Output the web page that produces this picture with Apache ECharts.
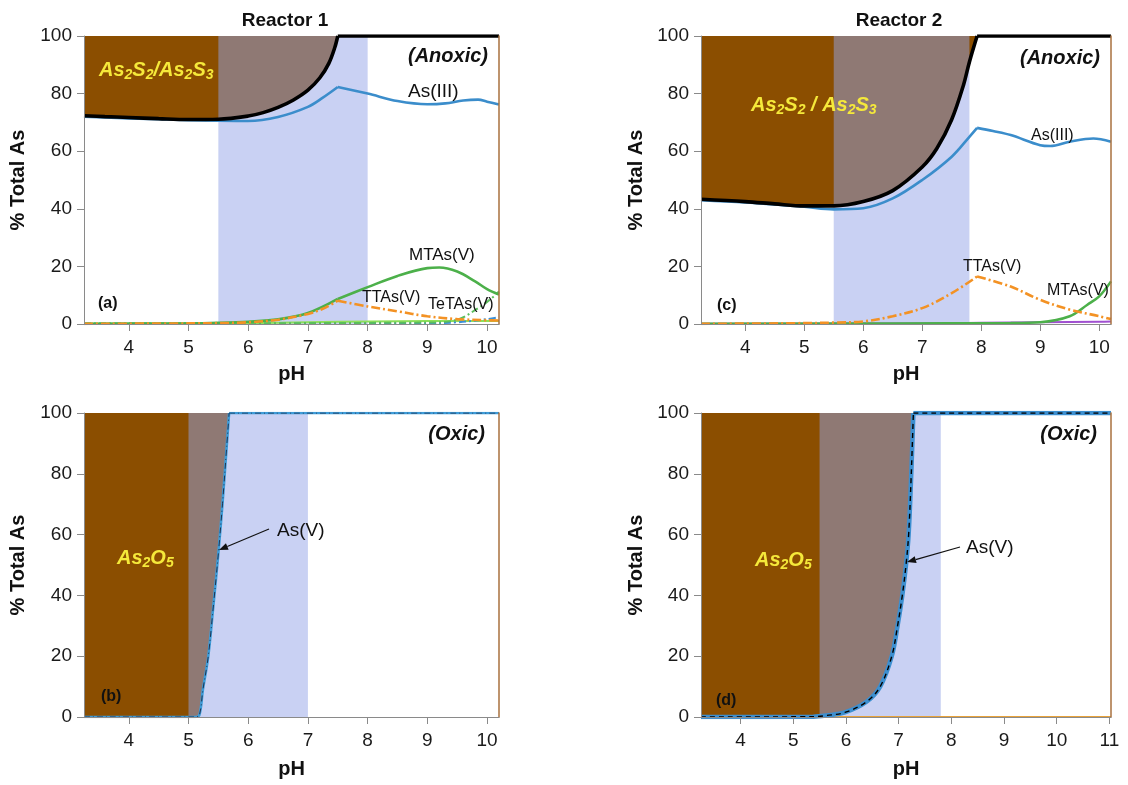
<!DOCTYPE html>
<html><head><meta charset="utf-8">
<script src="https://cdn.jsdelivr.net/npm/echarts@6/dist/echarts.min.js"></script>
<style>html,body{margin:0;padding:0;background:#fff}#c{width:1128px;height:785px}</style>
</head><body><div id="c"></div>
<script>
// ---------- DATA ----------
// Panel (a) Reactor 1, anoxic
const pH_solidA = [3.25, 3.6, 4, 4.5, 5, 5.5, 6, 6.25, 6.5, 6.75, 7, 7.2, 7.35, 7.45, 7.5, 10.2];
const solidA    = [72.3, 72.0, 71.7, 71.3, 71.0, 71.1, 72.2, 73.4, 75.2, 77.7, 81.2, 85.5, 90.5, 96.0, 100, 100];
const pH_as3A = [3.25, 4, 5, 5.5, 6, 6.5, 7, 7.25, 7.5, 8, 8.5, 9, 9.3, 9.6, 9.85, 10, 10.2];
const as3A    = [72.0, 71.4, 70.8, 70.6, 70.5, 71.9, 75.4, 78.6, 82.3, 80.0, 77.4, 76.3, 76.6, 77.6, 77.9, 77.2, 76.2];
const pH_mtaA = [3.25, 5, 5.5, 6, 6.5, 7, 7.5, 8, 8.5, 9, 9.2, 9.5, 9.8, 10, 10.2];
const mtaA    = [0.1, 0.2, 0.4, 0.8, 1.6, 3.8, 8.7, 12.8, 16.7, 19.4, 19.6, 18.2, 14.8, 12.1, 10.2];
const pH_ttaA = [3.25, 5, 5.5, 6, 6.5, 7, 7.25, 7.5, 8, 8.5, 9, 9.5, 10, 10.2];
const ttaA    = [0.05, 0.2, 0.3, 0.6, 1.5, 3.5, 5.3, 8.1, 6.1, 4.4, 2.7, 1.7, 1.3, 1.2];
const pH_tetaA = [3.25, 9, 9.5, 9.85, 10.05, 10.2];
const tetaA    = [0.2, 0.5, 1.5, 5.5, 8.5, 11.3];
const pH_minorBlueA = [3.25, 9, 9.5, 10, 10.2];
const minorBlueA    = [0.05, 0.2, 0.6, 1.7, 2.4];
const pH_limeA = [3.25, 6, 7, 8, 9, 10, 10.2];
const limeA    = [0.1, 0.3, 0.6, 0.9, 1.0, 1.0, 1.0];
const kinkA = [7.5];
const bandA = [5.5, 8.0];

// Panel (c) Reactor 2, anoxic
const pH_solidC = [3.25, 4, 4.5, 5, 5.5, 6, 6.5, 7, 7.25, 7.5, 7.7, 7.8, 7.93, 10.2];
const solidC    = [43.3, 42.5, 41.7, 41.0, 41.0, 42.5, 46.3, 54.5, 61.0, 71.0, 83.0, 91.0, 100, 100];
const pH_as3C = [3.25, 4, 5, 5.5, 6, 6.5, 7, 7.5, 7.8, 7.93, 8.2, 8.5, 9, 9.17, 9.5, 9.9, 10.2];
const as3C    = [43.0, 42.2, 40.7, 39.8, 40.2, 43.6, 50.0, 58.1, 65.0, 68.1, 67.0, 65.6, 62.1, 61.8, 63.3, 64.4, 63.3];
const pH_ttaC = [3.25, 5, 5.5, 6, 6.5, 7, 7.5, 7.93, 8.5, 9, 9.5, 10, 10.2];
const ttaC    = [0.05, 0.3, 0.5, 0.9, 2.7, 5.5, 10.7, 16.5, 13.0, 8.4, 5.0, 2.7, 1.7];
const pH_mtaC = [3.25, 8.5, 9, 9.5, 9.8, 10, 10.2];
const mtaC    = [0.1, 0.3, 0.6, 2.7, 6.7, 9.6, 14.8];
const pH_purpleC = [3.25, 7, 8, 9, 10, 10.2];
const purpleC    = [0.1, 0.2, 0.4, 0.6, 0.8, 0.9];
const kinkC = [7.93];
const bandC = [5.5, 7.8];

// Panel (b) Reactor 1, oxic
const pH_as5B = [3.25, 5.1, 5.18, 5.24, 5.33, 5.41, 5.5, 5.57, 5.64, 5.68, 10.2];
const as5B    = [0, 0, 0.5, 8.8, 19.8, 35.2, 53.8, 70.3, 89, 100, 100];
const kinkB = [5.68];
const bandB = [5.0, 7.0];

// Panel (d) Reactor 2, oxic
const pH_as5D = [3.25, 5.38, 5.63, 5.98, 6.39, 6.65, 6.87, 6.98, 7.07, 7.14, 7.19, 7.24, 7.28, 11.03];
const as5D    = [0, 0.1, 0.5, 1.5, 5, 10, 20, 30, 40, 50, 60, 80, 100, 100];
const pH_orangeD = [5.5, 11.03];
const orangeD    = [0, 0];
const kinkD = [7.28];
const bandD = [5.5, 7.8];

const xRangeABC = [3.25, 10.2];
const xRangeD = [3.25, 11.03];
const xTicksABC = [4, 5, 6, 7, 8, 9, 10];
const xTicksD = [4, 5, 6, 7, 8, 9, 10, 11];

// ---------- STYLE ----------
const FONT = '"Liberation Sans", Arial, Helvetica, sans-serif';
const BROWN = '#8B4E00';
const OVERLAY = 'rgba(147,163,231,0.5)';
const C_AS3 = '#3B8DCB', C_GREEN = '#4CB04A', C_ORANGE = '#F39224';
const YELLOW = '#F5E93A';
const SMOOTH = 0.35;

// grid index: 0=(a), 1=(c), 2=(b), 3=(d)
const grids = [
  {left: 84, top: 36, width: 415, height: 288},
  {left: 701, top: 36, width: 410, height: 288},
  {left: 84, top: 413, width: 415, height: 304},
  {left: 701, top: 413, width: 410, height: 304}
];
const xRanges = [xRangeABC, xRangeABC, xRangeABC, xRangeD];
const xTickSets = [xTicksABC, xTicksABC, xTicksABC, xTicksD];
const yNameGap = [56, 55, 56, 55];

function segs(xs, ys, kinks) {
  const out = []; let cur = [];
  xs.forEach((x, i) => {
    cur.push([x, ys[i]]);
    if (kinks.includes(x) && i > 0 && i < xs.length - 1) { out.push(cur); cur = [[x, ys[i]]]; }
  });
  out.push(cur);
  return out;
}
function lines(g, xs, ys, kinks, lineStyle, z) {
  return segs(xs, ys, kinks).map(d => ({
    type: 'line', xAxisIndex: g, yAxisIndex: g, data: d, symbol: 'none',
    smooth: SMOOTH, silent: true, animation: false,
    lineStyle: lineStyle, z: z || 5
  }));
}
function fillAbove(g, xs, ys, kinks) {
  return segs(xs, ys, kinks).map(d => ({
    type: 'line', xAxisIndex: g, yAxisIndex: g, data: d, symbol: 'none',
    smooth: SMOOTH, silent: true, animation: false,
    lineStyle: {width: 0}, areaStyle: {color: BROWN, opacity: 1, origin: 'end'}, z: 2
  }));
}
function band(g, b) {
  return {type: 'line', xAxisIndex: g, yAxisIndex: g, data: [], silent: true, animation: false,
    markArea: {silent: true, z: 3, animation: false, itemStyle: {color: OVERLAY},
      data: [[{xAxis: b[0], yAxis: 0}, {xAxis: b[1], yAxis: 100}]]}};
}

const series = [].concat(
  // (a)
  fillAbove(0, pH_solidA, solidA, kinkA), [band(0, bandA)],
  lines(0, pH_limeA, limeA, [], {color: '#8EE05A', width: 2}, 5),
  lines(0, pH_minorBlueA, minorBlueA, [], {color: '#3A8FD6', width: 2, type: [7, 3, 2, 3]}, 5),
  lines(0, pH_tetaA, tetaA, [], {color: '#5BBF5B', width: 2, type: [7, 3, 2, 3]}, 5),
  lines(0, pH_mtaA, mtaA, kinkA, {color: C_GREEN, width: 2.6}, 6),
  lines(0, pH_ttaA, ttaA, kinkA, {color: C_ORANGE, width: 2.6, type: [9, 3, 2, 3]}, 7),
  lines(0, pH_as3A, as3A, kinkA, {color: C_AS3, width: 2.6}, 5),
  lines(0, pH_solidA, solidA, kinkA, {color: '#000', width: 3.6}, 6),
  // (c)
  fillAbove(1, pH_solidC, solidC, kinkC), [band(1, bandC)],
  lines(1, pH_purpleC, purpleC, [], {color: '#A050D0', width: 2}, 5),
  lines(1, pH_mtaC, mtaC, [], {color: C_GREEN, width: 2.6}, 6),
  lines(1, pH_ttaC, ttaC, kinkC, {color: C_ORANGE, width: 2.6, type: [9, 3, 2, 3]}, 7),
  lines(1, pH_as3C, as3C, kinkC, {color: C_AS3, width: 2.6}, 5),
  lines(1, pH_solidC, solidC, kinkC, {color: '#000', width: 3.6}, 6),
  // (b)
  fillAbove(2, pH_as5B, as5B, kinkB), [band(2, bandB)],
  lines(2, pH_as5B, as5B, kinkB, {color: '#3E9CD8', width: 2.6}, 5),
  lines(2, pH_as5B, as5B, kinkB, {color: '#1d3352', width: 1, type: [6, 3, 1, 3]}, 6),
  // (d)
  fillAbove(3, pH_as5D, as5D, kinkD), [band(3, bandD)],
  lines(3, pH_orangeD, orangeD, [], {color: '#E8A23A', width: 2}, 5),
  lines(3, pH_as5D, as5D, kinkD, {color: '#3C8FD0', width: 4.5}, 5),
  lines(3, pH_as5D, as5D, kinkD, {color: '#000', width: 1.4, type: [5, 4]}, 6)
);

const xAxis = grids.map((gr, i) => ({
  type: 'value', gridIndex: i, min: xRanges[i][0], max: xRanges[i][1], z: 8,
  name: 'pH', nameLocation: 'middle', nameGap: i < 2 ? 40 : 42,
  nameTextStyle: {fontFamily: FONT, fontSize: 20, fontWeight: 'bold', color: '#111'},
  axisLine: {show: true, lineStyle: {color: '#8a8a8a', width: 1}},
  axisTick: {show: true, length: 7, lineStyle: {color: '#8a8a8a'}, customValues: xTickSets[i]},
  axisLabel: {fontFamily: FONT, fontSize: 19, color: '#1a1a1a', margin: 14, customValues: xTickSets[i]},
  splitLine: {show: false}
}));
const yAxis = grids.map((gr, i) => ({
  type: 'value', gridIndex: i, min: 0, max: 100, interval: 20, z: 8,
  name: '% Total As', nameLocation: 'middle', nameGap: yNameGap[i],
  nameTextStyle: {fontFamily: FONT, fontSize: 20, fontWeight: 'bold', color: '#111'},
  axisLine: {show: true, lineStyle: {color: '#8a8a8a', width: 1}},
  axisTick: {show: true, length: 7, lineStyle: {color: '#8a8a8a'}},
  axisLabel: {fontFamily: FONT, fontSize: 19, color: '#1a1a1a', margin: 12},
  splitLine: {show: false}
})).concat(grids.map((gr, i) => ({
  type: 'value', gridIndex: i, min: 0, max: 100, position: 'right', z: 8,
  axisLine: {show: true, lineStyle: {color: '#A8703E', width: 1.5}},
  axisTick: {show: false}, axisLabel: {show: false}, splitLine: {show: false}
})));

function txt(x, y, text, size, opts) {
  opts = opts || {};
  return {type: 'text', x: x, y: y, z: 20, silent: true,
    style: {text: text, fontFamily: FONT, fontSize: size, fontWeight: opts.bold ? 'bold' : 'normal',
      fontStyle: opts.italic ? 'italic' : 'normal', fill: opts.color || '#111',
      textAlign: opts.align || 'left', textVerticalAlign: 'middle'}};
}
function formula(x, y, text) {
  return {type: 'text', x: x, y: y, z: 20, silent: true,
    style: {text: text, textAlign: 'left', textVerticalAlign: 'middle',
      rich: {
        m: {fontFamily: FONT, fontSize: 20, fontWeight: 'bold', fontStyle: 'italic', fill: YELLOW},
        s: {fontFamily: FONT, fontSize: 14, fontWeight: 'bold', fontStyle: 'italic', fill: YELLOW, padding: [11, 0, 0, 0]}
      }}};
}
function arrow(x1, y1, x2, y2) {
  const dx = x2 - x1, dy = y2 - y1, L = Math.hypot(dx, dy), ux = dx / L, uy = dy / L;
  const hl = 9, hw = 3.5;
  const bx = x2 - ux * hl, by = y2 - uy * hl;
  return [
    {type: 'line', z: 20, silent: true, shape: {x1: x1, y1: y1, x2: bx, y2: by}, style: {stroke: '#111', lineWidth: 1.2}},
    {type: 'polygon', z: 20, silent: true, shape: {points: [[x2, y2], [bx - uy * hw, by + ux * hw], [bx + uy * hw, by - ux * hw]]}, style: {fill: '#111'}}
  ];
}

const graphic = [
  txt(285, 21, 'Reactor 1', 19, {bold: true, align: 'center'}),
  txt(899, 21, 'Reactor 2', 19, {bold: true, align: 'center'}),
  txt(488, 56, '(Anoxic)', 20, {bold: true, italic: true, align: 'right'}),
  txt(1100, 58, '(Anoxic)', 20, {bold: true, italic: true, align: 'right'}),
  txt(485, 434, '(Oxic)', 20, {bold: true, italic: true, align: 'right'}),
  txt(1097, 434, '(Oxic)', 20, {bold: true, italic: true, align: 'right'}),
  txt(408, 92, 'As(III)', 19),
  txt(1031, 136, 'As(III)', 16),
  txt(409, 255, 'MTAs(V)', 17),
  txt(362, 298, 'TTAs(V)', 16),
  txt(428, 305, 'TeTAs(V)', 16),
  txt(963, 267, 'TTAs(V)', 16),
  txt(1047, 291, 'MTAs(V)', 16),
  txt(98, 304, '(a)', 16, {bold: true}),
  txt(717, 306, '(c)', 16, {bold: true}),
  txt(101, 697, '(b)', 16, {bold: true}),
  txt(716, 701, '(d)', 16, {bold: true}),
  txt(277, 531, 'As(V)', 19),
  txt(966, 548, 'As(V)', 19),
  formula(99, 70, '{m|As}{s|2}{m|S}{s|2}{m|/As}{s|2}{m|S}{s|3}'),
  formula(751, 105, '{m|As}{s|2}{m|S}{s|2}{m| / As}{s|2}{m|S}{s|3}'),
  formula(117, 558, '{m|As}{s|2}{m|O}{s|5}'),
  formula(755, 560, '{m|As}{s|2}{m|O}{s|5}')
].concat(arrow(269, 529, 219, 550), arrow(960, 547, 907, 562));

const chart = echarts.init(document.getElementById('c'), null, {renderer: 'canvas'});
chart.setOption({
  animation: false,
  backgroundColor: '#fff',
  grid: grids.map(g => Object.assign({containLabel: false, show: false}, g)),
  xAxis: xAxis,
  yAxis: yAxis,
  series: series,
  graphic: graphic
});
</script></body></html>
